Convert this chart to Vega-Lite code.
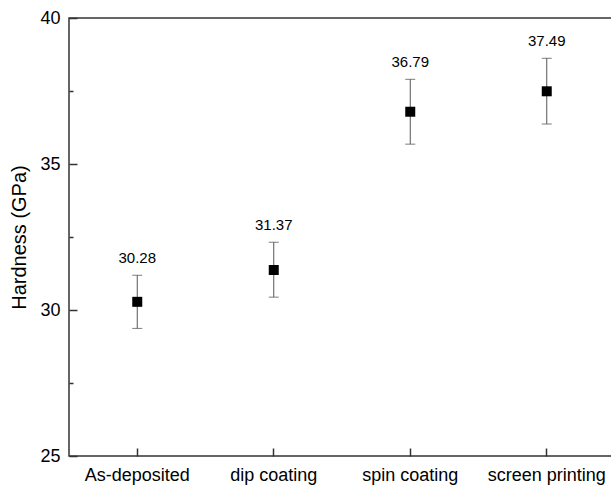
{
  "$schema": "https://vega.github.io/schema/vega-lite/v6.json",
  "width": 546,
  "height": 438,
  "autosize": {"type": "none"},
  "padding": {"left": 69, "top": 18, "right": 0, "bottom": 32},
  "config": {
    "font": "Liberation Sans",
    "view": {"stroke": "#333333", "strokeWidth": 1.5},
    "axis": {"grid": false, "domain": false, "tickColor": "#333333", "tickWidth": 1.5, "labelColor": "#000000", "labelFontSize": 18, "titleColor": "#000000", "titleFontWeight": "normal", "titleFontSize": 20}
  },
  "data": {"values": [
    {"sample": "As-deposited", "hardness": 30.28, "lo": 29.37, "hi": 31.19, "label": "30.28"},
    {"sample": "dip coating", "hardness": 31.37, "lo": 30.44, "hi": 32.32, "label": "31.37"},
    {"sample": "spin coating", "hardness": 36.79, "lo": 35.68, "hi": 37.9, "label": "36.79"},
    {"sample": "screen printing", "hardness": 37.49, "lo": 36.37, "hi": 38.62, "label": "37.49"}
  ]},
  "encoding": {
    "x": {"field": "sample", "type": "nominal", "sort": null, "scale": {"paddingInner": 0, "paddingOuter": 0},
      "axis": {"title": null, "labelAngle": 0, "offset": -8, "tickSize": 8, "labelPadding": 10}}
  },
  "layer": [
    {
      "mark": {"type": "errorbar", "ticks": {"size": 10, "color": "#444444", "strokeWidth": 1}, "rule": {"color": "#555555", "strokeWidth": 1}},
      "encoding": {
        "y": {"field": "lo", "type": "quantitative", "scale": {"domain": [25, 40], "nice": false, "zero": false},
          "axis": {"title": "Hardness (GPa)", "values": [25, 27.5, 30, 32.5, 35, 37.5, 40],
            "labelExpr": "datum.value % 5 === 0 ? datum.label : ''",
            "offset": -8, "tickSize": 8,
            "tickDash": {"condition": {"test": "datum.value % 5 !== 0", "value": [0, 4, 4]}, "value": []},
            "labelPadding": 9, "titlePadding": 10}},
        "y2": {"field": "hi"}
      }
    },
    {
      "mark": {"type": "point", "shape": "square", "filled": true, "size": 100, "color": "#000000", "opacity": 1},
      "encoding": {"y": {"field": "hardness", "type": "quantitative"}}
    },
    {
      "mark": {"type": "text", "baseline": "bottom", "dy": -9, "fontSize": 15, "color": "#000000"},
      "encoding": {"y": {"field": "hi", "type": "quantitative"}, "text": {"field": "label"}}
    }
  ]
}
